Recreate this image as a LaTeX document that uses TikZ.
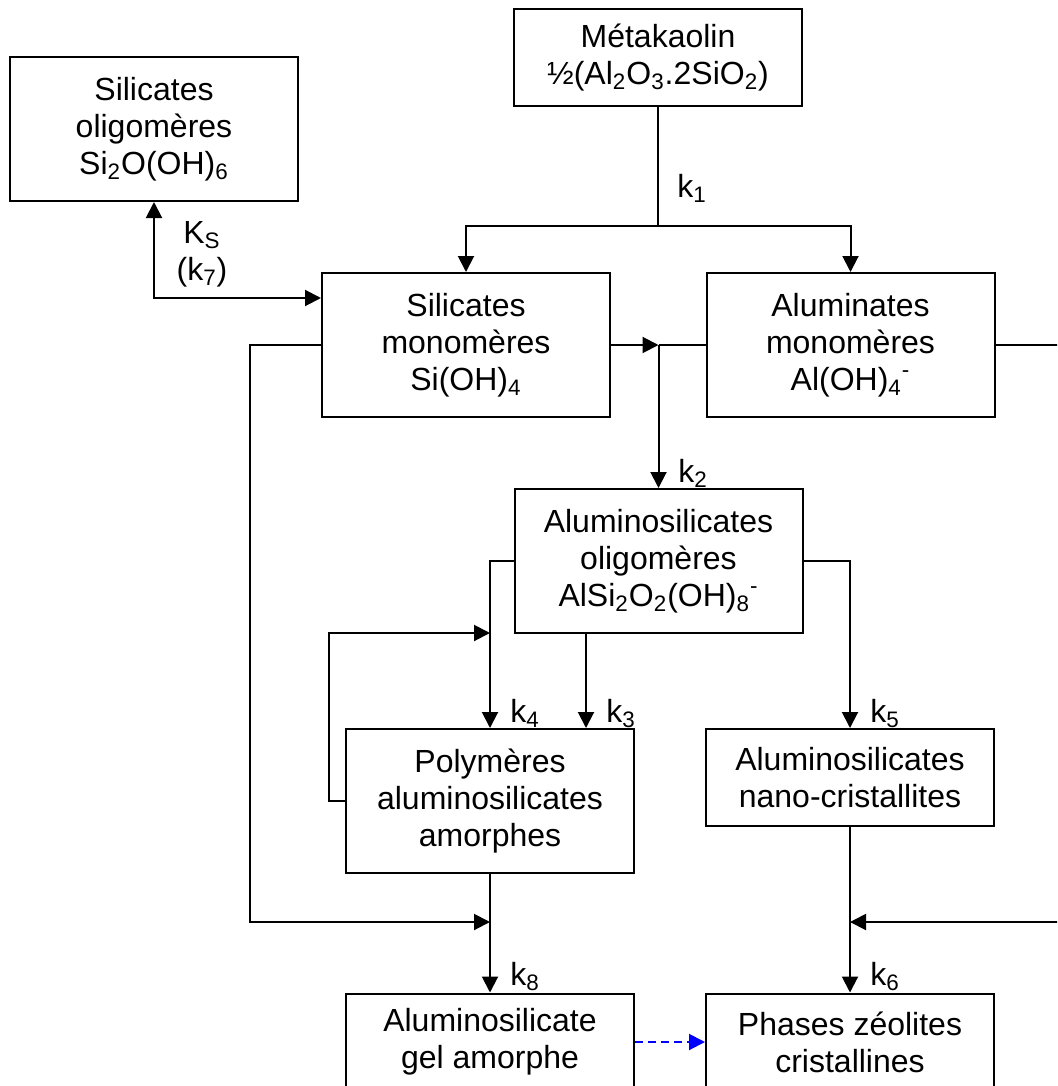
\documentclass[tikz,border=0pt]{standalone}
\usepackage{fontspec}
\setmainfont{Liberation Sans}
\usetikzlibrary{arrows.meta}
\begin{document}
\begin{tikzpicture}[x=0.5pt,y=-0.5pt,
  txt/.style={font=\fontsize{16pt}{18.5pt}\selectfont},
  box/.style={txt, draw, line width=1pt, minimum width=144pt, inner sep=0pt, align=center},
  twoline/.style={box, minimum height=48.5pt},
  threeline/.style={box, minimum height=72pt},
  conn/.style={line width=1pt},
  arr/.style={conn, -{Triangle[length=8pt,width=8pt]}},
  arrboth/.style={conn, {Triangle[length=8pt,width=8pt]}-{Triangle[length=8pt,width=8pt]}},
  lab/.style={txt, anchor=base west, inner sep=0pt}]
\useasboundingbox (0,0) rectangle (1057,1086);
\clip (0,0) rectangle (1057,1086);

% boxes
\node[twoline] (meta) at (658,57.5) {Métakaolin\\½(Al\textsubscript{2}O\textsubscript{3}.2SiO\textsubscript{2})};
\node[threeline] (silolig) at (154,129) {Silicates\\oligomères\\Si\textsubscript{2}O(OH)\textsubscript{6}};
\node[threeline] (silmono) at (466,345) {Silicates\\monomères\\Si(OH)\textsubscript{4}};
\node[threeline] (alumono) at (850.5,345) {Aluminates\\monomères\\Al(OH)\textsubscript{4}\textsuperscript{-}};
\node[threeline] (oligo) at (658.5,561) {Aluminosilicates\\oligomères\\AlSi\textsubscript{2}O\textsubscript{2}(OH)\textsubscript{8}\textsuperscript{-}};
\node[threeline] (poly) at (490,801) {Polymères\\aluminosilicates\\amorphes};
\node[twoline] (nano) at (850,777.5) {Aluminosilicates\\nano-cristallites};
\node[twoline] (gel) at (490,1042) {Aluminosilicate\\gel amorphe};
\node[twoline] (phases) at (850,1042) {Phases zéolites\\cristallines};

% helper coordinates
\coordinate (j1) at (658,226);
\coordinate (j2) at (oligo.north |- silmono.east);
\coordinate (j3) at (490,922);
\coordinate (j4) at (490,633);
\coordinate (j5) at (nano.south |- j3);
\coordinate (c298) at (0,298);
\coordinate (c250) at (250,922);
\coordinate (c329) at (329,633);
\coordinate (c586) at (586,0);
\coordinate (c1075) at (1075,0);

% connectors
\draw[conn] (meta.south) -- (j1);
\draw[arr] (j1) -| (silmono.north);
\draw[arr] (j1) -| (alumono.north);
\draw[arrboth] (silolig.south) |- (silmono.west |- c298);
\draw[arr] (silmono.east) -- (j2);
\draw[conn] (alumono.west) -- (j2);
\draw[arr] (j2) -- (oligo.north);
\draw[arr] (silmono.west) -| (c250) -- (j3);
\draw[arr] (oligo.west) -| (poly.north);
\draw[arr] (oligo.south -| c586) -- (poly.north -| c586);
\draw[arr] (oligo.east) -| (nano.north);
\draw[arr] (poly.west) -| (c329) -- (j4);
\draw[arr] (poly.south) -- (gel.north);
\draw[arr] (nano.south) -- (phases.north);
\draw[arr] (alumono.east) -| (c1075 |- j5) -- (j5);
\draw[line width=1pt, color=blue, dash pattern=on 4pt off 2.5pt, -{Triangle[length=8pt,width=8pt]}] (gel.east) -- (phases.west);

% labels
\node[lab] (k1) at (677,197) {k\textsubscript{1}};
\node[txt, align=center, inner sep=0pt] (ks) at (202,254) {K\textsubscript{S}\\(k\textsubscript{7})};
\node[lab] (k2) at (678,482) {k\textsubscript{2}};
\node[lab] (k4) at (510,722) {k\textsubscript{4}};
\node[lab] (k3) at (606,722) {k\textsubscript{3}};
\node[lab] (k5) at (870,722) {k\textsubscript{5}};
\node[lab] (k8) at (510,985) {k\textsubscript{8}};
\node[lab] (k6) at (870,985) {k\textsubscript{6}};
\end{tikzpicture}
\end{document}
